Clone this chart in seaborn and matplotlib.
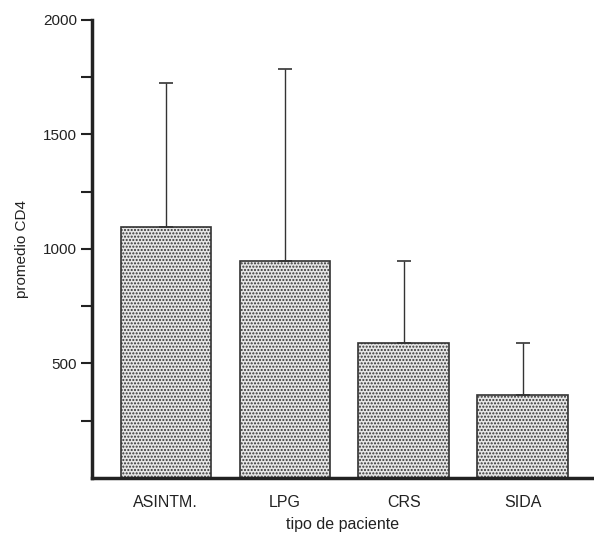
import numpy as np
import pandas as pd
import matplotlib
matplotlib.use("Agg")
import matplotlib.pyplot as plt
import seaborn as sns

# datos
tipos = ["ASINTM.", "LPG", "CRS", "SIDA"]
promedio_cd4 = [1096, 948, 591, 361]
desvio = [626, 835, 357, 230]

df = pd.DataFrame({"tipo": tipos, "cd4": promedio_cd4})

sns.set_style("white")
plt.rcParams["font.family"] = ["Liberation Sans", "DejaVu Sans"]
plt.rcParams["hatch.linewidth"] = 1.0

fig = plt.figure(figsize=(5.94, 5.38), dpi=100)
ax = fig.add_axes([0.155, 0.1115, 0.845, 0.852])

sns.barplot(
  data=df,
  x="tipo",
  y="cd4",
  color="#e6e6e6",
  edgecolor="#333333",
  linewidth=1.2,
  width=0.76,
  errorbar=None,
  ax=ax
)
for bar in ax.patches:
  bar.set_hatch(".....")

# solo la mitad superior del error
ax.errorbar(
  x=np.arange(len(tipos)),
  y=promedio_cd4,
  yerr=[np.zeros(len(tipos)), desvio],
  fmt="none",
  ecolor="#333333",
  elinewidth=1.0,
  capsize=5,
  capthick=1.2,
  zorder=1
)

ax.set_ylim(0, 2000)
ax.set_xlim(-0.62, 3.6)
ax.set_yticks([500, 1000, 1500, 2000])
ax.set_yticks([250, 750, 1250, 1750], minor=True)
ax.tick_params(axis="y", which="both", left=True, direction="out",
               length=8, width=1.5, color="#222222", labelsize=11, pad=3,
               labelcolor="#222222")
ax.tick_params(axis="x", bottom=False, labelsize=11.5, pad=9,
               labelcolor="#222222")
for s in ["top", "right"]:
  ax.spines[s].set_visible(False)
for s in ["left", "bottom"]:
  ax.spines[s].set_linewidth(2.5)
  ax.spines[s].set_color("#222222")

ax.set_xlabel("tipo de paciente", fontsize=11.5, labelpad=5, color="#222222")
ax.set_ylabel("promedio CD4", fontsize=11, labelpad=10, color="#222222")

plt.savefig("out.png", dpi=100)
